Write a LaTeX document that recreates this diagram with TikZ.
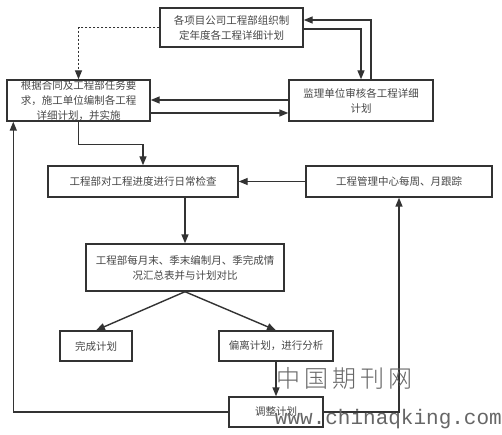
\documentclass[tikz,border=0pt]{standalone}
\usepackage{fontspec}
\setmainfont{Noto Sans CJK SC}
\newfontfamily\wmcjk{Noto Sans CJK SC Light}
\newfontfamily\wmmono{Liberation Mono}
\usetikzlibrary{arrows.meta}
\definecolor{ln}{HTML}{333333}
\tikzset{
  bx/.style={draw=ln, line width=1.4pt, fill=white, align=center, inner sep=0pt,
    font=\fontsize{10.5pt}{15pt}\selectfont, text=ln!90},
  arr/.style={draw=ln, line width=1.4pt, -{Triangle[length=9pt,width=7pt]}},
  dotarr/.style={arr, dash pattern=on 2pt off 2pt},
  wm/.style={text=black!60, inner sep=0pt}
}
\begin{document}
\begin{tikzpicture}[x=1pt,y=-1pt]
\useasboundingbox[fill=white] (0,0) rectangle (502,435);
\node[bx, minimum width=143pt, minimum height=39pt] (A) at (231.5,27.5) {各项目公司工程部组织制\\定年度各工程详细计划};
\node[bx, minimum width=143pt, minimum height=41pt] (B) at (78.5,100.5) {根据合同及工程部任务要\\求，施工单位编制各工程\\详细计划，并实施};
\node[bx, minimum width=144pt, minimum height=41pt] (C) at (361,100.5) {监理单位审核各工程详细\\计划};
\node[bx, minimum width=190pt, minimum height=31pt] (D) at (143,181.5) {工程部对工程进度进行日常检查};
\node[bx, minimum width=186pt, minimum height=31pt] (E) at (399,181.5) {工程管理中心每周、月跟踪};
\node[bx, minimum width=198pt, minimum height=47pt] (F) at (185,267.5) {工程部每月末、季末编制月、季完成情\\况汇总表并与计划对比};
\node[bx, minimum width=72pt, minimum height=30pt] (G) at (96,346) {完成计划};
\node[bx, minimum width=114pt, minimum height=30pt] (H) at (276,346) {偏离计划，进行分析};
\node[bx, minimum width=94pt, minimum height=30pt] (I) at (276,412) {调整计划};

\draw[dotarr] (A.west) -| (B.north);
\draw[arr] ([yshift=-1.5pt]A.east) -| (C.north);
\draw[arr] ([xshift=10pt]C.north) |- ([yshift=7.5pt]A.east);
\draw[arr] ([yshift=0.5pt]C.west) -- ([yshift=0.5pt]B.east);
\draw[arr] ([yshift=-12.5pt]B.east) -- ([yshift=-12.5pt]C.west);
\draw[arr] (B.south) -- ++(0,23) -| (D.north);
\draw[arr] (E.west) -- (D.east);
\draw[arr] (F.north |- D.south) -- (F.north);
\draw[arr] (F.south) -- (G.north);
\draw[arr] (F.south) -- (H.north);
\draw[arr] (H.south) -- (I.north);
\draw[arr] (I.west) -| ([xshift=7pt]B.south west);
\draw[arr] (I.east) -| (E.south);

\node[wm, font=\wmcjk\fontsize{24pt}{24pt}\selectfont, anchor=west] (wm1) at (276,378) {中\,国\,期\,刊\,网};
\node[wm, font=\wmmono\fontsize{21pt}{21pt}\selectfont, anchor=east] (wm2) at (502,419) {www.chinaqking.com};
\end{tikzpicture}
\end{document}
